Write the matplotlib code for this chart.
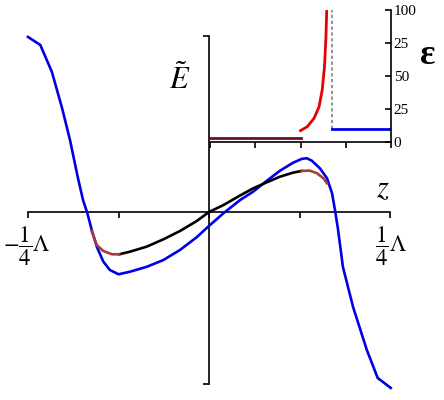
import matplotlib
matplotlib.use("Agg")
import matplotlib.pyplot as plt

plt.rcParams['mathtext.fontset'] = 'stix'
plt.rcParams['font.family'] = ['Liberation Serif', 'DejaVu Serif']

# ---- main panel data (z in units of Lambda, field normalised) ----
blue_z = [-0.250, -0.233, -0.217, -0.203, -0.192, -0.181, -0.174, -0.168, -0.162, -0.155,
          -0.146, -0.137, -0.125, -0.109, -0.086, -0.063, -0.040, -0.017, 0.000, 0.020,
          0.043, 0.061, 0.080, 0.098, 0.116, 0.128, 0.135, 0.142, 0.153, 0.163,
          0.170, 0.174, 0.178, 0.185, 0.199, 0.218, 0.233, 0.251]
blue_E = [1.006, 0.960, 0.805, 0.598, 0.414, 0.195, 0.069, -0.007, -0.103, -0.199,
          -0.285, -0.333, -0.358, -0.343, -0.315, -0.276, -0.218, -0.145, -0.080, -0.007,
          0.069, 0.117, 0.180, 0.237, 0.283, 0.305, 0.309, 0.295, 0.252, 0.194,
          0.107, 0.011, -0.094, -0.316, -0.546, -0.793, -0.954, -1.011]

black_z = [-0.124, -0.109, -0.086, -0.063, -0.040, -0.017, 0.000, 0.020, 0.043, 0.061,
           0.080, 0.098, 0.116, 0.128]
black_E = [-0.243, -0.228, -0.199, -0.157, -0.109, -0.052, 0.000, 0.040, 0.095, 0.136,
           0.171, 0.203, 0.226, 0.236]

mleft_z = [-0.162, -0.155, -0.146, -0.134, -0.124]
mleft_E = [-0.110, -0.190, -0.224, -0.243, -0.243]
mright_z = [0.128, 0.139, 0.149, 0.158, 0.163]
mright_E = [0.236, 0.238, 0.223, 0.194, 0.165]

main_ticks = [-0.25, -0.125, 0.0, 0.125, 0.25]

# ---- inset data (epsilon) ----
ins_maroon_x = [0.0, 2.0]
ins_maroon_y = [3.0, 3.0]
ins_red_x = [2.00, 2.15, 2.30, 2.41, 2.48, 2.53, 2.56, 2.58]
ins_red_y = [8.6, 11.6, 18.0, 26.7, 39.4, 57.0, 77.3, 100.0]
ins_dash_x = [2.69, 2.69]
ins_dash_y = [9.8, 100.0]
ins_blue_x = [2.69, 4.0]
ins_blue_y = [9.8, 9.8]
ins_xticks = [0, 1, 2, 3, 4]
ins_yticks = [0, 25, 50, 75, 100]
ins_ylabels = ['0', '25', '50', '25', '100']

fig = plt.figure(figsize=(4.44, 4.00), dpi=100)
ax = fig.add_axes([0, 0, 1, 1])
ax.set_xlim(-209 / 724, 235 / 724)
ax.set_ylim(-188 / 174, 212 / 174)
ax.patch.set_alpha(0)

ax.plot(blue_z, blue_E, color='#0000e6', lw=1.9, solid_joinstyle='round', zorder=3)
ax.plot(black_z, black_E, color='black', lw=1.9, solid_joinstyle='round', zorder=4)
ax.plot(mleft_z, mleft_E, color='#a83c3c', lw=1.9, solid_joinstyle='round', zorder=4)
ax.plot(mright_z, mright_E, color='#a83c3c', lw=1.9, solid_joinstyle='round', zorder=4)

for s in ['top', 'right']:
    ax.spines[s].set_visible(False)
ax.spines['left'].set_position(('data', 0))
ax.spines['bottom'].set_position(('data', 0))
ax.spines['left'].set_bounds(-0.99, 1.01)
ax.spines['bottom'].set_bounds(-0.25, 0.25)
for s in ['left', 'bottom']:
    ax.spines[s].set_linewidth(1.2)
ax.set_xticks(main_ticks)
ax.set_yticks([-0.99, 1.01])
ax.tick_params(direction='out', length=4, width=1.2, labelbottom=False, labelleft=False)

ax.text(-0.040, 0.759, r'$\tilde{E}$', fontsize=22, ha='center', va='center')
ax.text(0.240, 0.126, r'$z$', fontsize=22, ha='center', va='center')
ax.text(-0.252, -0.195, r'$-\dfrac{1}{4}\Lambda$', fontsize=16.5, ha='center', va='center')
ax.text(0.252, -0.195, r'$\dfrac{1}{4}\Lambda$', fontsize=16.5, ha='center', va='center')
ax.text(0.302, 0.897, 'ε', fontsize=26, fontweight='bold', ha='center', va='center')

# inset
ia = fig.add_axes([210 / 444, (400 - 142) / 400, (391 - 210) / 444, (142 - 10) / 400])
ia.patch.set_alpha(0)
ia.set_xlim(0, 4)
ia.set_ylim(0, 100)
ia.plot(ins_maroon_x, ins_maroon_y, color='#6e1020', lw=2.0)
ia.plot(ins_red_x, ins_red_y, color='#e60000', lw=2.0, solid_joinstyle='round')
ia.plot(ins_dash_x, ins_dash_y, color='#808080', lw=1.2, ls=(0, (2, 1.5)))
ia.plot(ins_blue_x, ins_blue_y, color='#0000e6', lw=2.0)
ia.spines['top'].set_visible(False)
ia.spines['left'].set_visible(False)
ia.spines['bottom'].set_linewidth(1.2)
ia.spines['right'].set_linewidth(1.2)
ia.set_xticks(ins_xticks)
ia.tick_params(axis='x', direction='out', length=4, width=1.2, labelbottom=False)
ia.yaxis.tick_right()
ia.set_yticks(ins_yticks)
ia.set_yticklabels(ins_ylabels)
ia.tick_params(axis='y', direction='in', length=4, width=1.2, labelsize=11, pad=2)

fig.savefig('out.png', dpi=100)
